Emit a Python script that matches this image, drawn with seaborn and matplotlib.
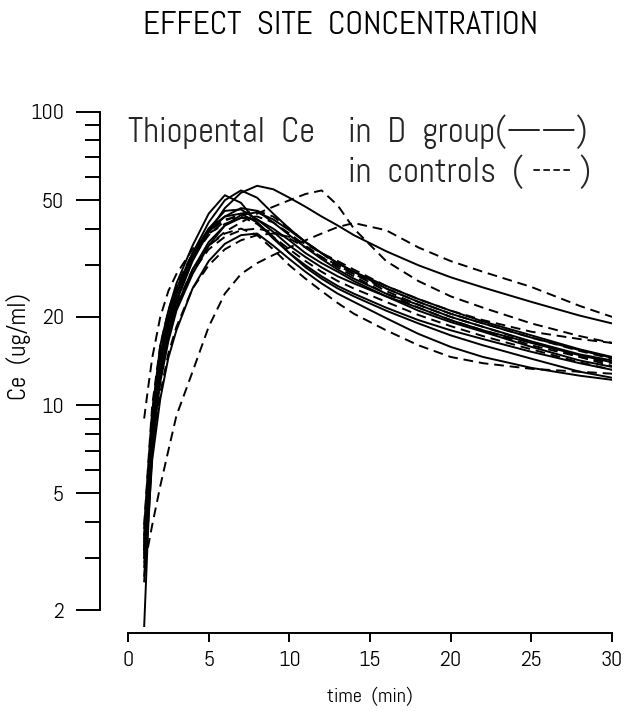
import numpy as np
import pandas as pd
import seaborn as sns
import matplotlib.pyplot as plt
from matplotlib.ticker import FixedLocator, NullFormatter

# time grid (min) shared by every curve
minutes = [1, 1.25, 1.5, 2, 2.5, 3, 4, 5, 6, 7, 8, 9, 10, 11, 12, 13, 14,
           16, 18, 20, 22, 25, 28, 30]

# Thiopental Ce (ug/ml), D group -- solid lines
d_group = {
    "D1": [3.8, 6.0, 9.5, 16, 21, 26, 35, 45, 52, 49, 42, 37, 33, 30, 27.5, 25.5, 24,
           21.5, 19.5, 18, 16.8, 15.2, 13.9, 13.2],
    "D2": [3.5, 5.5, 8.5, 14, 19, 24, 33, 42, 50, 54, 51, 45, 40, 36, 33, 30.5, 28.5,
           25, 22.5, 20.5, 19, 17, 15.4, 14.5],
    "D3": [3.2, 5.0, 8.0, 13, 18, 22.5, 31, 39, 47, 53, 56, 54.5, 51, 47.5, 44, 41, 38,
           33.5, 30, 27.3, 25.2, 22.5, 20.2, 19],
    "D4": [3.0, 5.0, 8.0, 13, 18, 23, 32, 40, 46, 46.5, 43, 39, 35, 32, 29.5, 27.5, 26,
           23.5, 21.5, 19.5, 18, 16.3, 14.8, 14],
    "D5": [2.8, 4.5, 7.5, 12, 16.5, 21, 28, 35, 41, 44.5, 45.5, 43, 39.5, 36, 33, 30.5, 28.5,
           25.5, 23, 21, 19.3, 17.3, 15.5, 14.6],
    "D6": [2.5, 4.0, 6.5, 10.5, 14.5, 18, 25, 31, 35.5, 38, 38.5, 35, 31.5, 28.5, 26, 24, 22.5,
           19.8, 17.5, 15.8, 14.6, 13.4, 12.6, 12.2],
    "D7": [1.75, 3.8, 7, 12.5, 17, 21.5, 29, 36, 41, 43.5, 43, 40, 36.5, 33, 30.5, 28.5, 26.5,
           23.5, 21, 19.2, 17.8, 15.8, 14.2, 13.5],
    "D8": [3.6, 6, 9.5, 15, 20, 25, 33, 40, 44, 45, 42, 37.5, 33, 29.5, 27, 25, 23.5,
           21, 19, 17.3, 16, 14.4, 13, 12.4],
    "D9": [3.3, 5.5, 9, 14, 19, 24, 32, 39, 44, 47, 46, 42, 38, 34.5, 31.5, 29, 27,
           24, 22, 20, 18.5, 16.5, 14.9, 14.2],
}

# Thiopental Ce (ug/ml), controls -- dashed lines
controls = {
    "C1": [3.2, 5.5, 9, 14, 18.5, 22, 29, 35, 39, 42, 45, 47.5, 50, 52.5, 54, 48, 40,
           31, 26.5, 23.5, 21.5, 19, 17.2, 16.3],
    "C2": [2.9, 3.3, 3.9, 5.3, 7.0, 9.2, 13, 18.5, 24, 28, 30.5, 32.5, 34.5, 36.5, 38.5, 40.5, 41.8,
           39.5, 34.5, 31, 28.5, 25.3, 21.8, 20],
    "C3": [9, 11.5, 14.5, 20, 24.5, 28, 34, 38.5, 41.5, 43.5, 44, 42, 38.5, 35, 32, 29.5, 27.5,
           24, 21.5, 19.5, 18, 16, 14.6, 13.9],
    "C4": [3.0, 4.8, 7.5, 12.5, 17, 21.5, 29, 35, 38.5, 40, 38, 34, 30, 27, 24.5, 22.3, 20.5,
           18, 16, 14.6, 13.9, 13.3, 13.0, 12.8],
    "C5": [2.6, 4.2, 6.8, 11, 15, 18.5, 25, 30, 34, 36.5, 38, 38.5, 37.5, 35.5, 33, 31, 29,
           25.5, 23, 21, 19.5, 17.8, 16.8, 16.3],
    "C6": [3.4, 5.8, 9.2, 15, 20, 24.5, 32, 38, 42.5, 45, 46, 44, 40, 36, 33, 30, 28,
           24.5, 22, 20, 18.5, 16.4, 14.6, 13.6],
    "C7": [3.9, 6.3, 10, 16, 21, 25.5, 33, 39, 43, 44, 41.5, 37.5, 34, 31, 28.5, 26.5, 25,
           22.5, 20.3, 18.6, 17.2, 15.5, 14, 13.2],
    "C8": [3.1, 5.0, 8.0, 13, 17.5, 21.5, 28.5, 34, 37.5, 39.5, 40, 39, 37, 34.5, 32, 30, 28,
           25, 22.5, 20.5, 19, 17, 15.3, 14.4],
}

y_major = [2, 5, 10, 20, 50, 100]
y_minor = [3, 4, 6, 7, 8, 9, 30, 40, 60, 70, 80, 90]
x_major = [0, 5, 10, 15, 20, 25, 30]

rows = []
for group, curves in (("D group", d_group), ("controls", controls)):
    for pid, vals in curves.items():
        for t, v in zip(minutes, vals):
            rows.append({"minute": t, "ce": v, "patient": pid, "group": group})
df = pd.DataFrame(rows)

sns.set_style("ticks")
# narrow plotter-like face, with plain fallbacks
plt.rcParams["font.family"] = ["Abel", "Archivo Narrow", "Liberation Sans", "DejaVu Sans"]

fig = plt.figure(figsize=(6.42, 7.11), dpi=100)
ax = fig.add_axes([0.1994, 0.1181, 0.7539, 0.7244])

sns.lineplot(data=df, x="minute", y="ce", units="patient", estimator=None,
             style="group", dashes={"D group": "", "controls": (5, 3)},
             color="black", linewidth=1.4, legend=False, sort=False, ax=ax)

ax.set_yscale("log")
ax.set_xlim(0, 30)
ax.set_ylim(1.75, 100)
ax.set_xticks(x_major)
ax.set_xticklabels([str(v) for v in x_major])
ax.set_yticks(y_major)
ax.set_yticklabels([str(v) for v in y_major])
ax.yaxis.set_minor_locator(FixedLocator(y_minor))
ax.yaxis.set_minor_formatter(NullFormatter())

sns.despine(ax=ax, offset={"left": 20, "bottom": 4}, trim=True)
for side in ("left", "bottom"):
    ax.spines[side].set_linewidth(1.4)
    ax.spines[side].set_color("black")

ax.tick_params(axis="y", which="major", length=17, width=1.4, pad=9,
               labelsize=16, colors="black")
ax.tick_params(axis="y", which="minor", length=10.5, width=1.4, colors="black")
ax.tick_params(axis="x", which="major", length=6.5, width=1.4, pad=7,
               labelsize=16, colors="black")
ax.tick_params(axis="x", which="minor", length=0)

xl = ax.set_xlabel("time  (min)", fontsize=14, labelpad=12, color="black")
yl = ax.set_ylabel("Ce  (ug/ml)", fontsize=15, color="black")
ax.yaxis.set_label_coords(-0.198, 0.5456)

title = fig.text(0.53, 1 - 26 / 711, "EFFECT  SITE  CONCENTRATION", fontsize=22,
                 ha="center", va="center", color="black")

# hand-written key inside the plot
key1 = fig.text(128 / 642, 1 - 142 / 711, "Thiopental  Ce", fontsize=24, va="baseline")
key2 = fig.text(348 / 642, 1 - 142 / 711, "in  D  group(——)", fontsize=24, va="baseline")
key3 = fig.text(348 / 642, 1 - 182 / 711, "in  controls  ( ---- )", fontsize=24,
                va="baseline")

# size texts so their length matches the reference, whatever face is found
renderer = fig.canvas.get_renderer()
for txt, length, vertical in ((title, 395, False), (key2, 239, False),
                              (xl, 86, False), (yl, 107, True)):
    box = txt.get_window_extent(renderer)
    cur = box.height if vertical else box.width
    txt.set_fontsize(txt.get_fontsize() * length / cur)
key1.set_fontsize(key2.get_fontsize())
key3.set_fontsize(key2.get_fontsize())

fig.savefig("out.png", dpi=100)
